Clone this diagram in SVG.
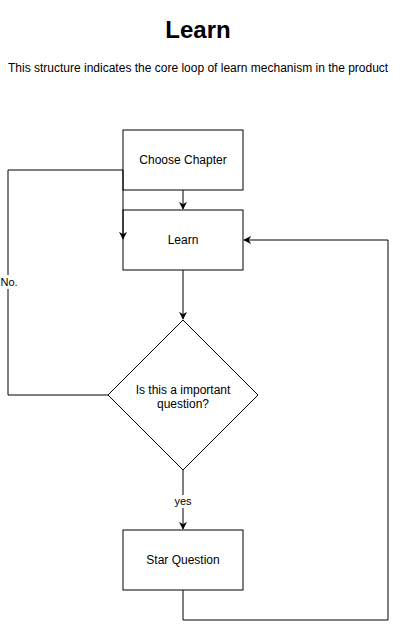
<svg xmlns="http://www.w3.org/2000/svg" width="414" height="629" viewBox="0 0 414 629">
<style>
.node{fill:#fff;stroke:#000;stroke-width:1}
.edge{fill:none;stroke:#000;stroke-width:1}
text{font-family:"Liberation Sans",Arial,sans-serif;fill:#000}
.lbl{font-size:12px;text-anchor:middle}
.elbl{font-size:11px;text-anchor:middle}
</style>
<defs>
<marker id="arr" viewBox="0 0 10 10" refX="9" refY="5" markerWidth="8" markerHeight="8" markerUnits="userSpaceOnUse" orient="auto">
<path d="M0,0 L10,5 L0,10 L3,5 Z" fill="#000"/>
</marker>
</defs>
<rect width="414" height="629" fill="#fff"/>
<text x="198" y="38" font-size="24" font-weight="bold" text-anchor="middle">Learn</text>
<text x="8" y="72" font-size="12">This structure indicates the core loop of learn mechanism in the product</text>
<g id="choose-chapter">
<rect class="node" x="123" y="130" width="120" height="60"/>
<text class="lbl" x="183" y="164">Choose Chapter</text>
</g>
<g id="learn">
<rect class="node" x="123" y="210" width="120" height="60"/>
<text class="lbl" x="183" y="244">Learn</text>
</g>
<g id="important">
<polygon class="node" points="183,320 258,395 183,470 108,395"/>
<text class="lbl" x="183" y="394">Is this a important</text>
<text class="lbl" x="183" y="408">question?</text>
</g>
<g id="star-question">
<rect class="node" x="123" y="530" width="120" height="60"/>
<text class="lbl" x="183" y="564">Star Question</text>
</g>
<g id="connectors">
<path class="edge" d="M183,190 L183,209" marker-end="url(#arr)"/>
<path class="edge" d="M183,270 L183,319" marker-end="url(#arr)"/>
<path class="edge" d="M183,470 L183,529" marker-end="url(#arr)"/>
<path class="edge" d="M108,395 L8,395 L8,170 L123,170 L123,239" marker-end="url(#arr)"/>
<path class="edge" d="M183,590 L183,620 L388,620 L388,240 L244,240" marker-end="url(#arr)"/>
<rect x="0" y="275" width="18" height="14" fill="#fff"/>
<text x="9" y="286" class="elbl">No.</text>
<rect x="173" y="495" width="20" height="13" fill="#fff"/>
<text x="183" y="505" class="elbl">yes</text>
</g>
</svg>
